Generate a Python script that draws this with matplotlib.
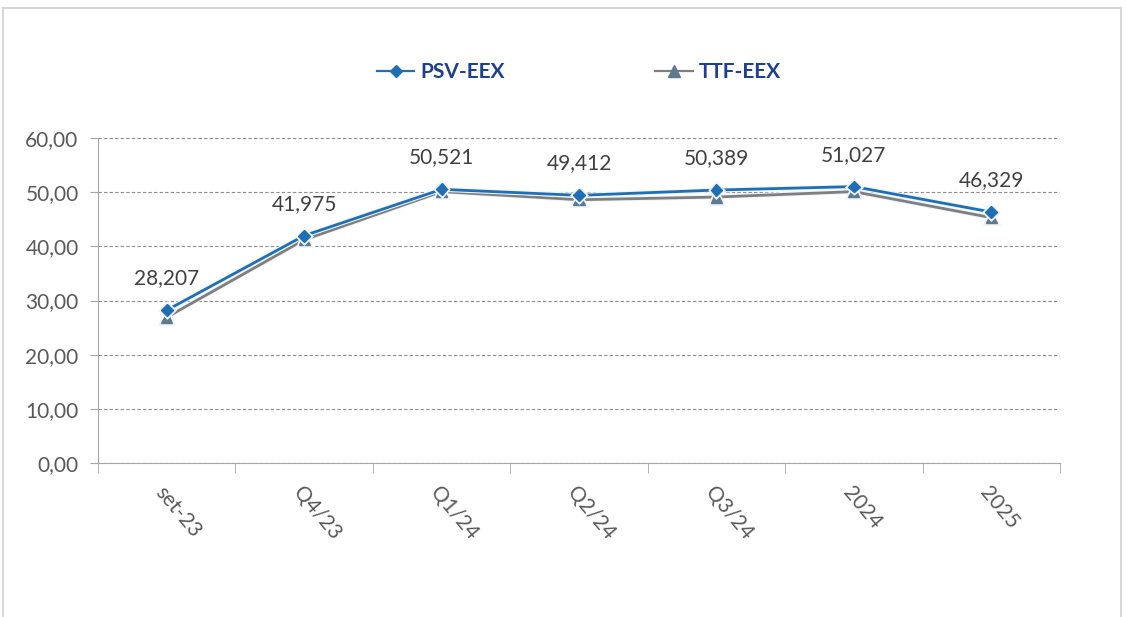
import matplotlib.pyplot as plt
from matplotlib.lines import Line2D
import matplotlib.patheffects as pe

# dati
categories = ['set-23', 'Q4/23', 'Q1/24', 'Q2/24', 'Q3/24', '2024', '2025']
psv_eex = [28.207, 41.975, 50.521, 49.412, 50.389, 51.027, 46.329]
ttf_eex = [26.9, 41.2, 50.1, 48.6, 49.1, 50.1, 45.3]
y_ticks = [0, 10, 20, 30, 40, 50, 60]

plt.rcParams['font.family'] = ['Lato', 'DejaVu Sans']

fig = plt.figure(figsize=(11.26, 6.17), dpi=100)
ax = fig.add_axes([98 / 1126, 1 - 463 / 617, (1060 - 98) / 1126, (463 - 138) / 617])

# cornice grigia chiara
frame = dict(color='#d0d0d0', lw=1.2, transform=fig.transFigure)
fig.add_artist(Line2D([3 / 1126, 1121 / 1126], [1 - 8 / 617, 1 - 8 / 617], **frame))
fig.add_artist(Line2D([3 / 1126, 3 / 1126], [0, 1 - 8 / 617], **frame))
fig.add_artist(Line2D([1121 / 1126, 1121 / 1126], [0, 1 - 8 / 617], **frame))

x = list(range(len(categories)))
halo = [pe.Stroke(linewidth=3.5, foreground='#eef4fa'), pe.Normal()]

ax.plot(x, ttf_eex, color='#7f7f7f', lw=2.0, marker='^', ms=8,
        mfc='#5f7a8c', mec='#5f7a8c', label='TTF-EEX', zorder=3, path_effects=halo)
ax.plot(x, psv_eex, color='#1f6fb5', lw=2.0, marker='D', ms=6,
        mfc='#1f6fb5', mec='#1f6fb5', label='PSV-EEX', zorder=4, path_effects=halo)

# etichette dati
for xi, v in zip(x, psv_eex):
    ax.annotate(f'{v:.3f}'.replace('.', ','), (xi, v), xytext=(0, 23),
                textcoords='offset points', ha='center', va='center',
                fontsize=15, color='#404040')

# assi
ax.set_xlim(-0.5, len(categories) - 0.5)
ax.set_ylim(0, 60)
ax.set_yticks(y_ticks)
ax.set_yticklabels([f'{v:.2f}'.replace('.', ',') for v in y_ticks],
                   fontsize=15, color='#595959')
ax.set_xticks(x)
ax.set_xticklabels(categories, rotation=-50, ha='left', va='top',
                   rotation_mode='anchor', fontsize=15, color='#595959')
ax.set_xticks([i - 0.5 for i in range(len(categories) + 1)], minor=True)
ax.tick_params(axis='x', which='major', length=0, pad=14)
ax.tick_params(axis='x', which='minor', length=7, color='#a6a6a6')
ax.tick_params(axis='y', length=6, color='#a6a6a6', pad=8)

ax.grid(axis='y', linestyle='--', color='#8c8c8c', lw=0.8, dashes=(3, 2))
ax.set_axisbelow(True)
for s in ['top', 'right']:
    ax.spines[s].set_visible(False)
ax.spines['left'].set_color('#a6a6a6')
ax.spines['bottom'].set_color('#a6a6a6')

# legenda
handles, labels = ax.get_legend_handles_labels()
leg = fig.legend(handles[::-1], labels[::-1], loc='center', ncol=2,
                 bbox_to_anchor=(579 / 1126, 1 - 72 / 617), frameon=False,
                 columnspacing=7.2, handlelength=1.8, handletextpad=0.3,
                 prop={'weight': 'bold', 'size': 15})
for t in leg.get_texts():
    t.set_color('#1f3f8f')
for h in leg.legend_handles:
    h.set_path_effects([])
    h.set_linewidth(1.6)

fig.savefig('out.png', dpi=100)
